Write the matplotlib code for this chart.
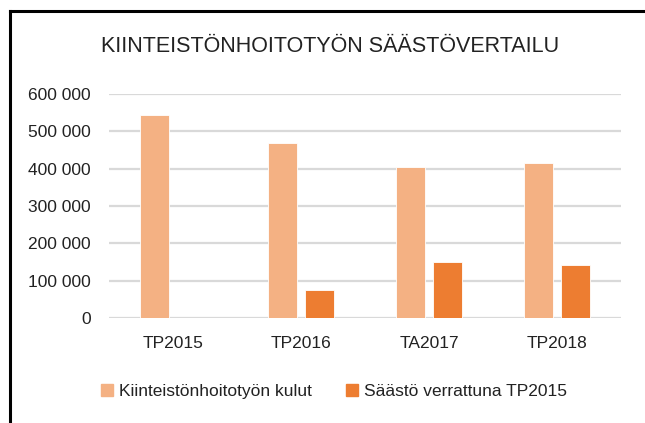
import matplotlib.pyplot as plt
import numpy as np
from matplotlib.lines import Line2D
from matplotlib.ticker import FuncFormatter

plt.rcParams['font.family'] = ['Liberation Sans', 'DejaVu Sans']

# data
categories = ["TP2015", "TP2016", "TA2017", "TP2018"]
costs = [543000, 468000, 405000, 416000]
savings = [0, 74000, 150000, 141000]
series_names = ["Kiinteistönhoitotyön kulut", "Säästö verrattuna TP2015"]
title = "KIINTEISTÖNHOITOTYÖN SÄÄSTÖVERTAILU"

light = "#F4B183"
dark = "#ED7D31"

fig = plt.figure(figsize=(6.45, 4.23), dpi=100)
ax = fig.add_axes([109/645, 1 - 318/423, 512/645, 224/423])

x = np.arange(len(categories))
w = 0.227
ax.bar(x - 0.143, costs, w, color=light, edgecolor="white", linewidth=0.6, zorder=3)
ax.bar(x + 0.143, savings, w, color=dark, edgecolor="white", linewidth=0.6, zorder=3)

ax.set_xlim(-0.5, len(categories) - 0.5)
ax.set_ylim(0, 600000)
ax.set_yticks(np.arange(0, 600001, 100000))
ax.yaxis.set_major_formatter(FuncFormatter(lambda v, p: f"{int(v):,}".replace(",", " ")))
ax.set_xticks(x)
ax.set_xticklabels(categories)
ax.tick_params(length=0, labelsize=12.5, colors="#222222")
ax.tick_params(axis="x", pad=13)
ax.tick_params(axis="y", pad=13)
ax.grid(axis="y", color="#D9D9D9", linewidth=1.6, zorder=0)
ax.set_axisbelow(True)
for s in ax.spines.values():
    s.set_visible(False)

fig.text(330/645, 1 - 47/423, title, ha="center", va="center", fontsize=15.5, color="#222222")

handles = [Line2D([], [], marker="s", linestyle="", markersize=8, color=c) for c in (light, dark)]
fig.legend(handles, series_names, loc="center", bbox_to_anchor=(334/645, 1 - 391/423),
           ncol=2, frameon=False, fontsize=12.5, handlelength=0.7, handletextpad=0.3,
           columnspacing=2.0, labelcolor="#222222")

# outer frame (left and top edges visible)
fig.add_artist(Line2D([9.5/645, 9.5/645], [0, 1 - 11.5/423], color="black", linewidth=2.2,
                      transform=fig.transFigure))
fig.add_artist(Line2D([9.5/645, 1], [1 - 11.5/423, 1 - 11.5/423], color="black", linewidth=2.2,
                      transform=fig.transFigure))

fig.savefig("out.png", dpi=100)
